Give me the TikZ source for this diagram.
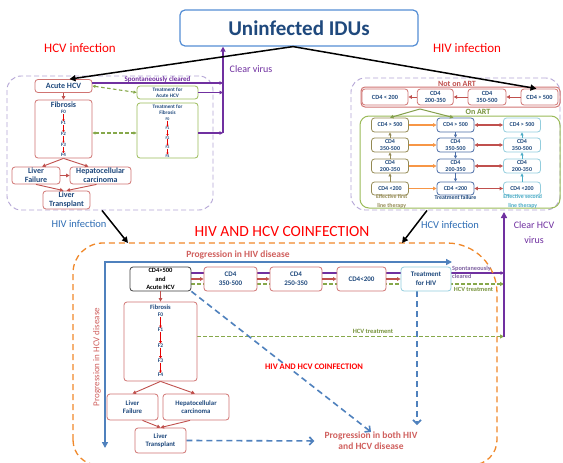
\documentclass[tikz,border=0pt]{standalone}
\usepackage{fontspec}
\setmainfont{Carlito}
\usetikzlibrary{arrows.meta,calc,backgrounds}
\definecolor{tblue}{HTML}{1F497D}
\definecolor{bblue}{HTML}{558ED5}
\definecolor{rbord}{HTML}{D07472}
\definecolor{rarr}{HTML}{C0504D}
\definecolor{gbord}{HTML}{9BBB59}
\definecolor{gline}{HTML}{86A84A}
\definecolor{gtext}{HTML}{77933C}
\definecolor{purp}{HTML}{7030A0}
\definecolor{lpurp}{HTML}{8064A2}
\definecolor{lav}{HTML}{B4A5D6}
\definecolor{orng}{HTML}{F0882A}
\definecolor{pblue}{HTML}{4F81BD}
\definecolor{olivec}{HTML}{948A54}
\definecolor{dbluec}{HTML}{4A6DA7}
\definecolor{cyanc}{HTML}{4BACC6}
\definecolor{lcyan}{HTML}{93CDDD}
\definecolor{parr}{HTML}{F79646}
\definecolor{ltred}{HTML}{D0605E}
\definecolor{lblue}{HTML}{2E6DB4}
\definecolor{brd}{HTML}{FF0000}
\tikzset{
  fnt/.style 2 args={font=\fontsize{#1}{#2}\selectfont},
  bfnt/.style 2 args={font=\bfseries\fontsize{#1}{#2}\selectfont},
  boxb/.style={rounded corners=3pt, fill=white, line width=0.8pt, align=center, inner sep=0pt, text=tblue},
  rbox/.style={boxb, draw=rbord},
  gbox/.style={boxb, draw=gbord},
  cbox/.style={boxb, draw=#1, bfnt={6}{6.8}, minimum width=37pt},
  lbl/.style={inner sep=0pt, align=center},
  tri/.style={-{Triangle[length=#1,width=#1]}},
  dtri/.style={{Triangle[length=#1,width=#1]}-{Triangle[length=#1,width=#1]}},
  rarrow/.style={draw=rarr, line width=0.9pt, tri=3.5pt},
  farrow/.style={draw=red!90!black, line width=0.6pt, tri=2pt},
  blkarrow/.style={draw=black, line width=1.5pt, tri=6pt},
  parrow/.style={draw=purp, line width=1.1pt, tri=3.5pt},
  gdash/.style={draw=gline, line width=1.1pt, dash pattern=on 3.5pt off 2.5pt},
  bdash/.style={draw=pblue, line width=1.6pt, dash pattern=on 6pt off 4pt, -{Straight Barb[length=4pt,width=8pt]}},
  lavpanel/.style={draw=lav, line width=0.9pt, dash pattern=on 5pt off 3pt, rounded corners=14pt, inner sep=0pt},
}
\begin{document}
\begin{tikzpicture}[x=1pt,y=-1pt]
\useasboundingbox (0,0) rectangle (563,463);
\begin{scope}[on background layer]\fill[white] (0,0) rectangle (563,463);\end{scope}

% ---------- panels ----------
\node[lavpanel, minimum width=206pt, minimum height=134pt] (lpanel) at (110,143) {};
\node[lavpanel, minimum width=209pt, minimum height=132pt] (rpanel) at (455.5,144) {};
\draw[orng, line width=1.3pt, dash pattern=on 6pt off 4pt] (73,440) -- (73,273) arc[start angle=180,end angle=90,radius=30pt] -- (447,243) arc[start angle=90,end angle=0,radius=50pt] -- (497,440) arc[start angle=0,end angle=-90,radius=25pt] -- (98,465) arc[start angle=270,end angle=180,radius=25pt] -- cycle;

% ---------- title and headers ----------
\node[draw=bblue, line width=1.2pt, rounded corners=5pt, minimum width=238pt, minimum height=36pt, inner sep=0pt, text=tblue, bfnt={21}{24}] (title) at (299,28) {Uninfected IDUs};
\node[lbl, text=brd, fnt={13}{15}] (hcvh) at (80,48) {HCV infection};
\node[lbl, text=brd, fnt={13}{15}] (hivh) at (467,48) {HIV infection};

% ---------- HCV infection panel ----------
\node[rbox, bfnt={8}{9}, minimum width=57pt, minimum height=13pt] (acute) at (63.5,86) {Acute HCV};
\node[rbox, minimum width=57pt, minimum height=58pt] (fibL) at (63.5,129) {};
\node[lbl, text=tblue, bfnt={8}{9}] (fibLt) at (63.5,105) {Fibrosis};
\foreach \i/\y in {0/112.3,1/123.3,2/134,3/144.7,4/155}
  \node[lbl, text=tblue, bfnt={5}{5.5}] (lf\i) at (63.5,\y) {F\i};
\foreach \i/\j in {0/1,1/2,2/3,3/4} \draw[farrow, line width=0.8pt] (lf\i) -- (lf\j);
\node[gbox, bfnt={5.2}{6}, minimum width=61pt, minimum height=13pt] (tacute) at (167.5,92.5) {Treatment for\\Acute HCV};
\node[gbox, minimum width=61pt, minimum height=55pt] (tfib) at (167.5,130.5) {};
\node[lbl, text=tblue, bfnt={5.2}{6.5}] (tfibt) at (167.5,109.5) {Treatment for\\Fibrosis};
\foreach \i/\y in {0/119,1/128.3,2/137.7,3/147.3,4/156.2}
  \node[lbl, text=tblue, bfnt={4}{4.5}] (tf\i) at (167.5,\y) {F\i};
\foreach \i/\j in {0/1,1/2,2/3,3/4} \draw[farrow] (tf\i) -- (tf\j);
\node[rbox, bfnt={8}{9}, minimum width=48pt, minimum height=17pt] (lfail) at (36,175.5) {Liver\\Failure};
\node[rbox, bfnt={8}{9}, minimum width=61pt, minimum height=17pt] (hcc) at (100.5,175.5) {Hepatocellular\\carcinoma};
\node[rbox, bfnt={8}{9}, minimum width=47pt, minimum height=18pt] (ltx) at (66.5,200) {Liver\\Transplant};
\draw[rarrow] (acute) -- (fibL);
\draw[rarrow] (fibL.south) -- ($(lfail.north)+(6,0)$);
\draw[rarrow] (fibL.south) -- ($(hcc.north)+(-12,0)$);
\draw[rarrow] (lfail) -- (hcc);
\draw[rarrow] (lfail.south) -- ($(ltx.north)+(-3,0)$);
\draw[rarrow] ($(hcc.south)+(-4,0)$) -- ($(ltx.north)+(0,0)$);
\draw[gdash, dtri=3pt] (acute.east) -- (tacute.west);
\draw[gdash, dtri=3pt] ($(fibL.east)+(0,4)$) -- ($(tfib.west)+(0,2.5)$);
\coordinate (cv1) at (223,83);
\coordinate (cv2) at (223,92.5);
\coordinate (cvbot) at (223,133);
\draw[parrow] ($(acute.east)+(0,-3)$) -- (cv1);
\draw[parrow] (tacute.east) -- (cv2);
\draw[parrow] ($(tfib.east)+(0,2.5)$) -- (cvbot);
\draw[draw=purp, line width=1.8pt, tri=5pt] (cvbot) -- (title.south -| cvbot);
\node[lbl, text=purp, bfnt={7}{8}] (spont1) at (157.5,79.3) {Spontaneously cleared};
\node[lbl, text=purp, fnt={10}{12}] (clrv) at (251,69) {Clear virus};

% ---------- HIV infection panel ----------
\node[draw=rbord, line width=1pt, rounded corners=4pt, minimum width=199pt, minimum height=20pt, inner sep=0pt] (notart) at (460.5,97) {};
\node[lbl, text=rarr, bfnt={8}{9}] (notartl) at (457,83.5) {Not on ART};
\node[rbox, bfnt={6.3}{7}, minimum width=46pt, minimum height=16pt] (nA1) at (385,97) {CD4 < 200};
\node[rbox, bfnt={6.3}{7}, minimum width=36pt, minimum height=16pt] (nA2) at (435.3,97) {CD4\\200-350};
\node[rbox, bfnt={6.3}{7}, minimum width=38pt, minimum height=16pt] (nA3) at (487,97) {CD4\\350-500};
\node[rbox, bfnt={6.3}{7}, minimum width=37pt, minimum height=16pt] (nA4) at (539.5,97) {CD4 > 500};
\draw[rarrow] (nA4) -- (nA3);
\draw[rarrow] (nA3) -- (nA2);
\draw[rarrow] (nA2) -- (nA1);
\node[draw=gbord, line width=1pt, rounded corners=9pt, minimum width=200pt, minimum height=92pt, inner sep=0pt] (onart) at (460,162) {};
\node[lbl, text=gtext, bfnt={8}{9}] (onartl) at (478,112) {On ART};
% columns
\node[cbox=olivec, minimum height=14pt] (ha1) at (390,125) {CD4 > 500};
\node[cbox=olivec, minimum height=14pt] (ha2) at (390,145) {CD4\\350-500};
\node[cbox=olivec, minimum height=14pt] (ha3) at (390,166) {CD4\\200-350};
\node[cbox=olivec, minimum height=13pt] (ha4) at (390,188.5) {CD4 <200};
\node[cbox=dbluec, minimum height=14pt] (hb1) at (455.5,125) {CD4 > 500};
\node[cbox=dbluec, minimum height=14pt] (hb2) at (455.5,145) {CD4\\350-500};
\node[cbox=dbluec, minimum height=14pt] (hb3) at (455.5,166) {CD4\\200-350};
\node[cbox=dbluec, minimum height=13pt] (hb4) at (455.5,188.5) {CD4 <200};
\node[cbox=lcyan, minimum height=14pt] (hc1) at (522,125) {CD4 > 500};
\node[cbox=lcyan, minimum height=14pt] (hc2) at (522,145) {CD4\\350-500};
\node[cbox=lcyan, minimum height=14pt] (hc3) at (522,166) {CD4\\200-350};
\node[cbox=lcyan, minimum height=13pt] (hc4) at (522,188.5) {CD4 <200};
\foreach \a/\b in {4/3,3/2,2/1} {
  \draw[draw=olivec, line width=1pt, tri=3pt] (ha\a) -- (ha\b);
  \draw[draw=cyanc, line width=1pt, tri=3pt] (hc\a) -- (hc\b);
  \draw[draw=dbluec, line width=1pt, tri=3pt] (hb\b) -- (hb\a);
}
\foreach \r in {1,2,3,4} {
  \draw[draw=parr, line width=1.2pt, tri=3.5pt] (ha\r) -- (hb\r);
  \draw[draw=rarr, line width=1.2pt, dtri=3.5pt] (hb\r) -- (hc\r);
}
\coordinate (gsplit) at (420,109);
\draw[draw=gbord!85!black, line width=1pt, tri=3.5pt] (gsplit) -- (ha1.north);
\draw[draw=gbord!85!black, line width=1pt, tri=3.5pt] (gsplit) -- ($(hb1.north)+(-2,0)$);
\node[lbl, text=olivec, bfnt={5.8}{8.4}] (eff1) at (391.7,201.5) {Effective first\\line therapy};
\node[lbl, text=tblue, bfnt={5.8}{7}] (tfail) at (455.5,197.3) {Treatment failure};
\node[lbl, text=cyanc, bfnt={5.8}{8.4}] (eff2) at (522.7,201.5) {Effective second\\line therapy};

% ---------- arrows from title ----------
\draw[blkarrow] ($(title.south)+(-6,0)$) -- ($(acute.north)+(6,0)$);
\draw[blkarrow] ($(title.south)+(-6,0)$) -- ($(nA4.north)+(-3,0)$);

% ---------- arrows into coinfection ----------
\coordinate (cin1) at (128,243);
\coordinate (cin2) at (402,243);
\draw[blkarrow] ($(lpanel.south)+(-8,0)$) -- (cin1);
\draw[blkarrow] ($(rpanel.south)+(-28.5,0)$) -- (cin2);
\node[lbl, text=lblue, fnt={10.5}{12}] (hivinf) at (79,224) {HIV infection};
\node[lbl, text=lblue, fnt={10.5}{12}] (hcvinf) at (450,225) {HCV infection};
\node[lbl, text=brd, fnt={15.5}{17}] (coinf) at (282,232) {HIV AND HCV COINFECTION};

% clear HCV virus
\coordinate (chb) at (504,337);
\coordinate (cht) at (504,212);
\draw[draw=purp, line width=2.2pt, tri=6pt] (chb) -- (cht);
\node[lbl, text=purp, fnt={10}{15}] (clrhcv) at (534,232.5) {Clear HCV\\virus};

% ---------- coinfection contents ----------
\coordinate (phx) at (452,262);
\coordinate (pcorner) at (105,262);
\coordinate (phy) at (105,448);
\draw[draw=pblue, line width=2pt, dtri=6pt] (phx) -- (pcorner) -- (phy);
\node[lbl, text=ltred, bfnt={9.5}{11}] (phiv) at (238,255) {Progression in HIV disease};
\node[lbl, text=ltred, fnt={9}{10}, rotate=90] (phcv) at (97,357) {Progression in HCV disease};

\node[boxb, draw=black!75, text=black, bfnt={6.5}{8.2}, minimum width=61pt, minimum height=24pt] (c0) at (160.5,279) {CD4>500\\and\\Acute HCV};
\node[rbox, bfnt={7}{9}, minimum width=53pt, minimum height=24pt] (c1) at (230.5,279) {CD4\\350-500};
\node[rbox, bfnt={7}{9}, minimum width=52pt, minimum height=24pt] (c2) at (296,279) {CD4\\250-350};
\node[rbox, bfnt={7}{9}, minimum width=49pt, minimum height=24pt] (c3) at (361.5,279) {CD4<200};
\node[boxb, draw=lcyan, bfnt={7}{9}, minimum width=50pt, minimum height=24pt] (c4) at (426,279) {Treatment\\for HIV};
\draw[rarrow, line width=1.2pt] (c0) -- (c1);
\draw[rarrow, line width=1.2pt] (c1) -- (c2);
\draw[rarrow, line width=1.2pt] (c2) -- (c3);
\draw[rarrow, line width=1.2pt] (c3) -- (c4);
\coordinate (sp) at (504,273);
\coordinate (ht) at (504,284);
\coordinate (ht2) at (504,336.5);
\coordinate (vb) at (417,425);

\node[rbox, minimum width=73pt, minimum height=79pt] (fib2) at (160.5,341.5) {};
\node[lbl, text=tblue, bfnt={6.5}{7}] (fib2t) at (160.5,307.3) {Fibrosis};
\foreach \i/\y in {0/315,1/330,2/345.7,3/360.7,4/375}
  \node[lbl, text=tblue, bfnt={5.5}{6}] (cf\i) at (160.5,\y) {F\i};
\foreach \i/\j in {0/1,1/2,2/3,3/4} \draw[farrow, line width=0.9pt, tri=2.5pt] (cf\i) -- (cf\j);
\draw[rarrow] (c0) -- (fib2);
\node[rbox, bfnt={6.8}{8.5}, minimum width=51pt, minimum height=26pt] (lf2) at (132.5,407) {Liver\\Failure};
\node[rbox, bfnt={6.8}{8.5}, minimum width=66pt, minimum height=26pt] (hcc2) at (196,407) {Hepatocellular\\carcinoma};
\node[rbox, bfnt={6.8}{8.5}, minimum width=51pt, minimum height=25pt] (lt2) at (160.5,440.5) {Liver\\Transplant};
\draw[rarrow] (fib2.south) -- (lf2.north);
\draw[rarrow] (fib2.south) -- ($(hcc2.north)+(-1,0)$);
\draw[rarrow] ($(lf2.south)+(10,0)$) -- (lt2.north);
\draw[rarrow] ($(hcc2.south)+(-6,0)$) -- (lt2.north);

\node[lbl, text=ltred, bfnt={9.5}{11}] (pboth) at (371,441) {Progression in both HIV\\and HCV disease};
\node[lbl, fill=white, text=brd, bfnt={8.5}{10}, inner sep=1pt] (coinf2) at (314,367) {HIV AND HCV COINFECTION};
\node[lbl, text=gtext, bfnt={6.5}{7}] (hct2) at (373,331) {HCV treatment};
\node[lbl, text=gtext, bfnt={6.3}{7}] (hct1) at (473.5,289.5) {HCV treatment};
\node[lbl, text=lpurp, bfnt={6.3}{8}, align=left, anchor=west] (spont2) at (452,272.5) {Spontaneously\\cleared};

\begin{scope}[on background layer]
\draw[parrow, line width=1.3pt] ($(c0.east)+(0,-6)$) -- (sp);
\draw[gdash, line width=1.3pt, tri=4pt] ($(c0.east)+(0,5)$) -- (ht);
\draw[gdash, line width=1.3pt, tri=4pt] ($(fib2.east)+(0,-5)$) -- (ht2);
\draw[bdash] (c0.south east) -- (pboth.north);
\draw[bdash] (c4.south -| vb) -- (vb);
\draw[bdash, shorten >=10pt] (lt2.east) -- (pboth.west);
\end{scope}
\end{tikzpicture}
\end{document}
